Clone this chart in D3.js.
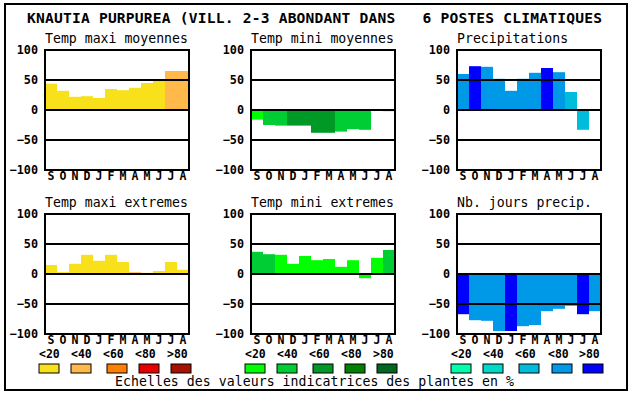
<!DOCTYPE html>
<html>
<head>
<meta charset="utf-8">
<script src="https://cdn.jsdelivr.net/npm/d3@7"></script>
<style>
  body { margin: 0; background: #fff; }
  text { font-family: "DejaVu Sans Mono", monospace; fill: #000; }
</style>
</head>
<body>
<svg id="chart" width="630" height="394"></svg>
<script>
var title = "KNAUTIA PURPUREA (VILL. 2-3 ABONDANT DANS   6 POSTES CLIMATIQUES";
var footer = "Echelles des valeurs indicatrices des plantes en %";
var months = ["S","O","N","D","J","F","M","A","M","J","J","A"];
var yTicks = [100, 50, 0, -50, -100];
var legendLabels = ["<20", "<40", "<60", "<80", ">80"];

var panelTitles = ["Temp maxi moyennes", "Temp mini moyennes", "Precipitations",
                   "Temp maxi extremes", "Temp mini extremes", "Nb. jours precip."];

// values, one per month S..A
var tmaxMoy   = [44, 32, 22, 23, 20, 35, 33, 37, 45, 51, 65, 65];
var tminMoy   = [-16, -25, -26, -26, -26, -38, -38, -36, -32, -33, 0, -2];
var precip    = [60, 73, 72, 52, 32, 52, 62, 70, 63, 30, -33, 0];
var tmaxExt   = [15, 3, 17, 32, 22, 32, 20, 3, 2, 5, 20, 7];
var tminExt   = [37, 33, 32, 17, 30, 23, 25, 12, 23, -7, 27, 40];
var nbJours   = [-67, -77, -78, -95, -95, -87, -85, -62, -58, -53, -67, -62];

// colour class (0..4) of each bar
var tmaxMoyCls = [0, 0, 0, 0, 0, 0, 0, 0, 0, 0, 1, 1];
var tminMoyCls = [0, 1, 1, 2, 2, 2, 2, 1, 1, 1, 1, 0];
var precipCls  = [3, 4, 3, 3, 3, 3, 3, 4, 3, 2, 2, 2];
var tmaxExtCls = [0, 0, 0, 0, 0, 0, 0, 1, 0, 0, 0, 0];
var tminExtCls = [1, 1, 0, 0, 0, 0, 0, 0, 0, 0, 0, 1];
var nbJoursCls = [4, 3, 3, 3, 4, 3, 3, 3, 3, 3, 4, 3];

var warmColors  = ["#f8e11a", "#ffb84a", "#ff8000", "#e80000", "#a81000"];
var greenColors = ["#00ff00", "#00cc33", "#009926", "#008000", "#006620"];
var blueColors  = ["#00ffaa", "#00d8c8", "#00bcdc", "#0099e8", "#0000ff"];

var panels = [
  {title: panelTitles[0], values: tmaxMoy, cls: tmaxMoyCls, colors: warmColors},
  {title: panelTitles[1], values: tminMoy, cls: tminMoyCls, colors: greenColors},
  {title: panelTitles[2], values: precip,  cls: precipCls,  colors: blueColors},
  {title: panelTitles[3], values: tmaxExt, cls: tmaxExtCls, colors: warmColors},
  {title: panelTitles[4], values: tminExt, cls: tminExtCls, colors: greenColors},
  {title: panelTitles[5], values: nbJours, cls: nbJoursCls, colors: blueColors}
];

var svg = d3.select("#chart");
var colX = [45, 251, 457];
var rowY = [50, 214];
var plotW = 144, plotH = 120;

svg.append("rect")
  .attr("x", 5).attr("y", 4)
  .attr("width", 622).attr("height", 386)
  .attr("fill", "none").attr("stroke", "#000").attr("stroke-width", 2);

svg.append("text")
  .attr("x", 27).attr("y", 23)
  .attr("font-size", "14.6px").attr("font-weight", "bold")
  .attr("textLength", 575).attr("lengthAdjust", "spacing")
  .attr("xml:space", "preserve").style("white-space", "pre")
  .text(title);

panels.forEach(function(p, i){
  var left = colX[i % 3];
  var top = rowY[Math.floor(i / 3)];
  var x = d3.scaleBand().domain(d3.range(12)).range([left, left + plotW]).padding(0);
  var y = d3.scaleLinear().domain([-100, 100]).range([top + plotH, top]);
  var g = svg.append("g");

  g.append("text")
    .attr("x", left).attr("y", top - 7)
    .attr("font-size", "13.2px")
    .text(p.title);

  g.selectAll("rect.bar")
    .data(p.values)
    .enter().append("rect")
    .attr("class", "bar")
    .attr("x", function(d, j){ return x(j); })
    .attr("width", x.bandwidth())
    .attr("y", function(d){ return y(Math.max(0, d)); })
    .attr("height", function(d){ return Math.abs(y(d) - y(0)); })
    .attr("fill", function(d, j){ return p.colors[p.cls[j]]; });

  [50, 0, -50].forEach(function(v){
    g.append("line")
      .attr("x1", left).attr("x2", left + plotW)
      .attr("y1", y(v)).attr("y2", y(v))
      .attr("stroke", "#000").attr("stroke-width", 2);
  });

  g.append("rect")
    .attr("x", left).attr("y", top)
    .attr("width", plotW).attr("height", plotH)
    .attr("fill", "none").attr("stroke", "#000").attr("stroke-width", 2);

  var ya = g.append("g")
    .attr("transform", "translate(" + (left - 7) + ",0)")
    .call(d3.axisLeft(y).tickValues(yTicks).tickSize(0).tickPadding(0));
  ya.select(".domain").remove();
  ya.selectAll("text")
    .attr("font-size", "11.8px").attr("font-weight", "bold")
    .attr("font-family", "DejaVu Sans Mono, monospace");

  var monthScale = d3.scaleBand().domain(d3.range(12)).range([left, left + plotW]);
  var xa = g.append("g")
    .attr("transform", "translate(0," + (top + plotH + 2) + ")")
    .call(d3.axisBottom(monthScale).tickSize(0).tickPadding(0).tickFormat(function(j){ return months[j]; }));
  xa.select(".domain").remove();
  xa.selectAll("text")
    .attr("font-size", "11.5px").attr("font-weight", "bold")
    .attr("font-family", "DejaVu Sans Mono, monospace");
});

// legends
var legendX = [[39, 71, 107, 139, 171], [245, 277, 313, 345, 377], [451, 483, 519, 552, 583]];
var legendLabelX = [[39, 71, 103, 135, 167], [245, 277, 309, 341, 373], [451, 483, 515, 548, 579]];
var legendColors = [warmColors, greenColors, blueColors];
legendColors.forEach(function(cols, c){
  cols.forEach(function(col, k){
    svg.append("text")
      .attr("x", legendLabelX[c][k]).attr("y", 358)
      .attr("font-size", "11.5px").attr("font-weight", "bold")
      .text(legendLabels[k]);
    svg.append("rect")
      .attr("x", legendX[c][k]).attr("y", 364)
      .attr("width", 20).attr("height", 9)
      .attr("fill", col).attr("stroke", "#000").attr("stroke-width", 1);
  });
});

svg.append("text")
  .attr("x", 115).attr("y", 386)
  .attr("font-size", "13.2px")
  .attr("textLength", 399).attr("lengthAdjust", "spacing")
  .text(footer);
</script>
</body>
</html>
